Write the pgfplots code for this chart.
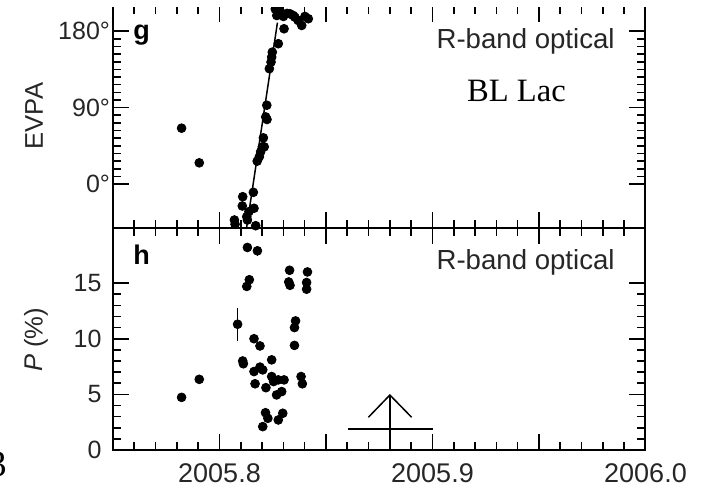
\documentclass[border=0pt]{standalone}
\usepackage{fontspec}
\setmainfont{Liberation Sans}
\newfontfamily\seriffont{Liberation Serif}
\usepackage{pgfplots}
\pgfplotsset{compat=1.18}
\usepackage{pgfplotstable}

% Time axis: t = year - 2005
% Optical electric-vector position angle (degrees)
\pgfplotstableread{
t       evpa
0.7822   65.8
0.7905   25.0
0.8070  -42.3
0.8073  -47.3
0.8107  -25.8
0.8109  -14.9
0.8128  -38.4
0.8131  -42.3
0.8138  -32.5
0.8159   -9.7
0.8162  -28.5
0.8170  -49.0
0.8177   27.0
0.8187   32.1
0.8193   37.9
0.8201   43.8
0.8210   43.8
0.8206   54.4
0.8217   79.0
0.8223   76.0
0.8222   92.8
0.8234  135.8
0.8242  143.6
0.8245  149.5
0.8248  155.3
0.8276  165.2
0.8262  206.0
0.8269  198.4
0.8284  204.0
0.8300  197.3
0.8303  182.8
0.8317  200.8
0.8331  200.4
0.8346  198.4
0.8354  196.4
0.8369  192.6
0.8386  186.7
0.8401  197.3
0.8417  194.6
}\evpatable

% Optical polarization degree (%) with errors
\pgfplotstableread{
t       p      err
0.7822   4.73  0
0.7905   6.35  0
0.8085  11.30  1.5
0.8109   8.00  0
0.8112   7.75  0
0.8128  14.70  0
0.8131  18.20  0
0.8140  15.30  0
0.8162  10.00  0
0.8162   7.05  0
0.8167   5.95  0
0.8178  17.90  0.45
0.8190   9.35  0
0.8190   7.45  0
0.8203   7.20  0
0.8203   2.10  0
0.8216   3.35  0
0.8218   5.60  0
0.8227   2.85  0
0.8245   8.10  0
0.8245   6.60  0
0.8254   6.15  0
0.8268   4.95  0
0.8276   6.30  0
0.8276   2.70  0
0.8292   5.25  0
0.8297   3.30  0
0.8303   6.30  0
0.8325  15.10  0
0.8329  16.15  0
0.8331  14.80  0
0.8352  11.00  0
0.8352   9.40  0
0.8357  11.60  0
0.8383   6.60  0
0.8389   5.95  0
0.8409  15.05  0
0.8409  14.45  0
0.8413  16.00  0
}\poltable

\pgfplotsset{
  panel/.style={
    scale only axis, width=266.25pt, height=111pt,
    xmin=0.75, xmax=1.0,
    xtick={0.75,0.8,0.85,0.9,0.95,1.0},
    minor x tick num=4,
    tick align=inside,
    major tick length=8pt, minor tick length=4pt,
    axis line style={line width=1pt},
    tick style={line width=0.8pt, black},
    /pgf/number format/assume math mode=true,
    yticklabel style={font=\fontsize{12.5}{12.5}\selectfont, text=black!85},
    xticklabel style={font=\fontsize{13.5}{13.5}\selectfont, inner sep=0pt,
      anchor=north, yshift=-6.5pt, text=black!85},
    scaled x ticks=false,
  },
  dots/.style={only marks, mark=*, mark size=2.2pt, black},
}

\begin{document}
\begin{tikzpicture}
% lower panel: polarization degree
\begin{axis}[panel, at={(0pt,0pt)}, anchor=south west,
  ymin=0, ymax=19.95, ytick={0,5,10,15}, minor y tick num=4,
  yticklabel style={xshift=-2.2pt},
  xticklabels={,2005.8,,2005.9,,2006.0}]
\addplot[dots, error bars/.cd, y dir=both, y explicit, error mark=none,
  error bar style={line width=0.8pt, black}]
  table[x=t, y=p, y error=err] {\poltable};
% upper-limit style marker
\addplot[line width=0.75pt, black] coordinates {(0.8800,0) (0.8800,4.94)};
\addplot[line width=0.75pt, black] coordinates {(0.8699,2.94) (0.8800,4.94) (0.8902,2.94)};
\addplot[line width=0.75pt, black] coordinates {(0.8603,1.89) (0.9001,1.89)};
\end{axis}
% upper panel: EVPA rotation
\begin{axis}[panel, at={(0pt,111pt)}, anchor=south west,
  ymin=-51.7, ymax=209.6, ytick={0,90,180}, yticklabels={0°,90°,180°},
  yticklabel style={xshift=2pt},
  minor y tick num=9, xticklabels={,,,,,}]
\addplot[line width=0.75pt, black] coordinates {(0.8127,-51.7) (0.8272,190)};
\addplot[dots] table[x=t, y=evpa] {\evpatable};
\end{axis}
% the frame is open along the very top edge
\fill[white] (-2pt,221.6pt) rectangle (268pt,226pt);

\node[anchor=base east, inner sep=0pt, text=black!85, font=\fontsize{13.8}{14}\selectfont] at (251pt,200.85pt) {R-band optical};
\node[anchor=base east, inner sep=0pt, text=black!85, font=\fontsize{13.8}{14}\selectfont] at (251pt,90pt) {R-band optical};
\node[anchor=base, inner sep=0pt, font=\seriffont\fontsize{16.3}{17}\selectfont] at (201.75pt,174.15pt) {BL Lac};
\node[anchor=base west, inner sep=0pt, font=\bfseries\fontsize{13.5}{14}\selectfont] at (10pt,205pt) {g};
\node[anchor=base west, inner sep=0pt, font=\bfseries\fontsize{13.5}{14}\selectfont] at (10pt,92.5pt) {h};
\node[rotate=90, inner sep=0pt, text=black!85, font=\fontsize{12.8}{13}\selectfont] at (-39.5pt,167pt) {EVPA};
\node[rotate=90, inner sep=0pt, text=black!85, font=\fontsize{12.8}{13}\selectfont] at (-38.5pt,55pt) {\textit{P} (\%)};
\node[anchor=base east, inner sep=0pt, font=\seriffont\fontsize{18.5}{19}\selectfont] at (-53pt,-13.5pt) {3};

\pgfresetboundingbox
\path[use as bounding box] (-56.5pt,-18pt) rectangle (295pt,225pt);
\end{tikzpicture}
\end{document}
